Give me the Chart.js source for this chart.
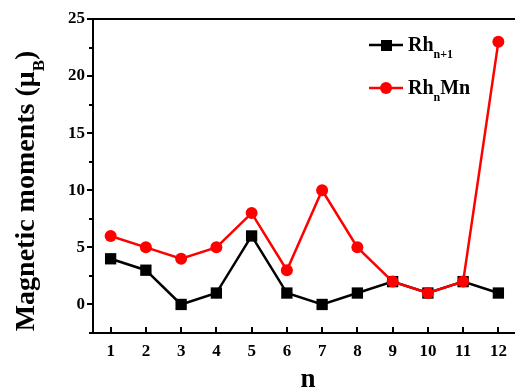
<!DOCTYPE html>
<html>
<head>
<meta charset="utf-8">
<script src="https://cdn.jsdelivr.net/npm/chart.js@4"></script>
<style>
  html, body { margin: 0; padding: 0; background: #fff; overflow: hidden; }
  #wrap { position: relative; width: 515px; height: 390px; overflow: hidden; }
</style>
</head>
<body>
<div id="wrap"><canvas id="chart" width="524" height="390"></canvas></div>
<script>
const nValues = [1, 2, 3, 4, 5, 6, 7, 8, 9, 10, 11, 12];
const rhMoments = [4, 3, 0, 1, 6, 1, 0, 1, 2, 1, 2, 1];
const rhMnMoments = [6, 5, 4, 5, 8, 3, 10, 5, 2, 1, 2, 23];
const yMajorTicks = [0, 5, 10, 15, 20, 25];

const FONT = '"Liberation Serif", "Times New Roman", serif';

// draw text pieces, subscripts lowered and smaller; returns end x
function drawSubText(ctx, x, y, parts, size) {
  parts.forEach(p => {
    if (p.sub) {
      ctx.font = 'bold ' + Math.round(size * 0.6) + 'px ' + FONT;
      ctx.fillText(p.text, x, y + size * 0.35);
    } else {
      ctx.font = 'bold ' + size + 'px ' + FONT;
      ctx.fillText(p.text, x, y);
    }
    x += ctx.measureText(p.text).width;
  });
  return x;
}

function measureParts(ctx, parts, size) {
  let w = 0;
  parts.forEach(p => {
    ctx.font = 'bold ' + (p.sub ? Math.round(size * 0.6) : size) + 'px ' + FONT;
    w += ctx.measureText(p.text).width;
  });
  return w;
}

const decorations = {
  id: 'decorations',
  afterDraw(chart) {
    const ctx = chart.ctx;
    const area = chart.chartArea;
    const xs = chart.scales.x;
    const ys = chart.scales.y;
    ctx.save();
    ctx.strokeStyle = '#000';
    ctx.fillStyle = '#000';
    ctx.lineWidth = 2;

    // top frame line
    ctx.beginPath();
    ctx.moveTo(area.left, area.top);
    ctx.lineTo(area.right, area.top);
    ctx.stroke();

    // y ticks, outward
    for (let v = -2.5; v <= 25; v += 2.5) {
      const py = Math.round(ys.getPixelForValue(v));
      const len = v % 5 === 0 ? 6 : 4;
      ctx.beginPath();
      ctx.moveTo(area.left, py);
      ctx.lineTo(area.left - len, py);
      ctx.stroke();
    }
    // x ticks, inward
    nValues.forEach(n => {
      const px = Math.round(xs.getPixelForValue(n));
      ctx.beginPath();
      ctx.moveTo(px, area.bottom);
      ctx.lineTo(px, area.bottom - 6);
      ctx.stroke();
    });

    // axis titles
    ctx.textAlign = 'center';
    ctx.textBaseline = 'alphabetic';
    ctx.font = 'bold 27px ' + FONT;
    ctx.fillText('n', 308, 387);

    ctx.save();
    ctx.translate(34, 191);
    ctx.rotate(-Math.PI / 2);
    ctx.textAlign = 'left';
    const yTitle = [{ text: 'Magnetic moments (μ' }, { text: 'B', sub: true }, { text: ')' }];
    const tw = measureParts(ctx, yTitle, 28);
    drawSubText(ctx, -tw / 2, 0, yTitle, 28);
    ctx.restore();

    // legend
    ctx.textAlign = 'left';
    ctx.lineWidth = 2.5;
    ctx.strokeStyle = '#000';
    ctx.beginPath();
    ctx.moveTo(369, 45);
    ctx.lineTo(403, 45);
    ctx.stroke();
    ctx.fillRect(381, 40, 11, 11);
    ctx.fillStyle = '#000';
    drawSubText(ctx, 408, 51, [{ text: 'Rh' }, { text: 'n+1', sub: true }], 20);

    ctx.strokeStyle = '#ff0000';
    ctx.fillStyle = '#ff0000';
    ctx.beginPath();
    ctx.moveTo(369, 88);
    ctx.lineTo(403, 88);
    ctx.stroke();
    ctx.beginPath();
    ctx.arc(386, 88, 6, 0, Math.PI * 2);
    ctx.fill();
    ctx.fillStyle = '#000';
    drawSubText(ctx, 408, 94, [{ text: 'Rh' }, { text: 'n', sub: true }, { text: 'Mn' }], 20);

    ctx.restore();
  }
};

const ctx = document.getElementById('chart').getContext('2d');
new Chart(ctx, {
  type: 'line',
  data: {
    datasets: [
      {
        label: 'RhnMn',
        data: nValues.map((n, i) => ({ x: n, y: rhMnMoments[i] })),
        borderColor: '#ff0000',
        backgroundColor: '#ff0000',
        borderWidth: 2.5,
        pointStyle: 'circle',
        pointRadius: 6,
        pointBorderWidth: 0,
        tension: 0
      },
      {
        label: 'Rhn+1',
        data: nValues.map((n, i) => ({ x: n, y: rhMoments[i] })),
        borderColor: '#000000',
        backgroundColor: '#000000',
        borderWidth: 2.5,
        pointStyle: 'rect',
        pointRadius: 8,
        pointBorderWidth: 0,
        tension: 0
      }
    ]
  },
  options: {
    responsive: false,
    animation: false,
    layout: { padding: { top: 19, right: 0, left: 0, bottom: 0 } },
    plugins: {
      legend: { display: false },
      tooltip: { enabled: false }
    },
    scales: {
      x: {
        type: 'linear',
        min: 0.5,
        max: 12.5,
        afterFit: s => { s.height = 57; },
        afterBuildTicks: s => { s.ticks = nValues.map(v => ({ value: v })); },
        grid: { display: false, drawTicks: false },
        border: { display: true, color: '#000', width: 2 },
        ticks: {
          padding: 8,
          color: '#000',
          font: { family: FONT, weight: 'bold', size: 17 },
          autoSkip: false,
          maxRotation: 0
        }
      },
      y: {
        min: -2.5,
        max: 25,
        afterFit: s => { s.width = 93; },
        afterBuildTicks: s => { s.ticks = yMajorTicks.map(v => ({ value: v })); },
        grid: { display: false, drawTicks: false },
        border: { display: true, color: '#000', width: 2 },
        ticks: {
          padding: 8,
          color: '#000',
          font: { family: FONT, weight: 'bold', size: 17 }
        }
      }
    }
  },
  plugins: [decorations]
});
</script>
</body>
</html>
